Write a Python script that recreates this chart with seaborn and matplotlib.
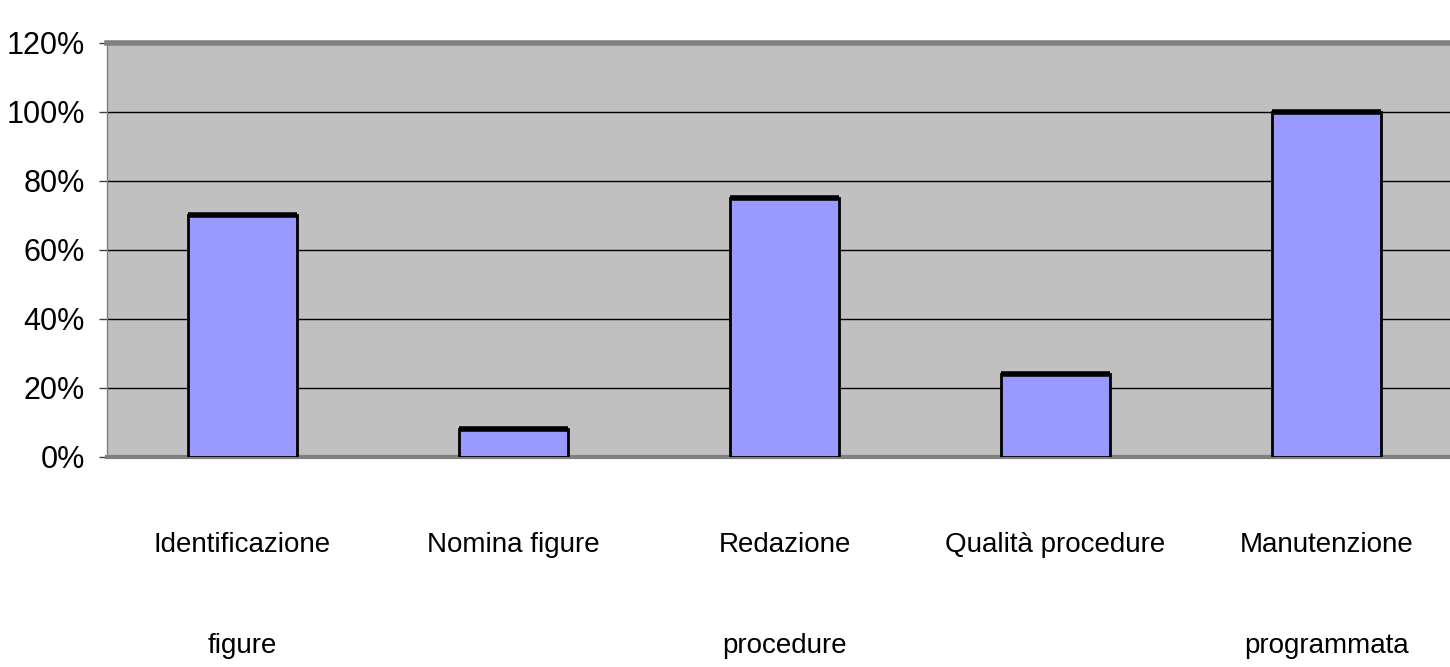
import matplotlib
matplotlib.use("Agg")
import matplotlib.pyplot as plt
from matplotlib.ticker import FixedLocator, NullFormatter
import seaborn as sns
import pandas as pd

# data
categories = ["Identificazione\nfigure", "Nomina figure", "Redazione\nprocedure",
              "Qualità procedure", "Manutenzione\nprogrammata"]
values = [70, 8, 75, 24, 100]
y_ticks = [0, 20, 40, 60, 80, 100, 120]

df = pd.DataFrame({"attivita": categories, "pct": values})

sns.set_style("white")
plt.rcParams["font.family"] = ["Liberation Sans", "DejaVu Sans"]

fig = plt.figure(figsize=(14.5, 6.67), dpi=100)
ax = fig.add_axes([107 / 1450, 1 - 456.7 / 667, 1355 / 1450, 413.7 / 667])
ax.set_facecolor("#C0C0C0")

sns.barplot(data=df, x="attivita", y="pct", color="#9999FF", edgecolor="black",
            linewidth=2, width=0.4, saturation=1, ax=ax, zorder=3)

# thick top edge of each bar
for p in ax.patches:
    ax.hlines(p.get_height(), p.get_x(), p.get_x() + p.get_width(),
              color="black", lw=4, zorder=4)

ax.set_xlim(-0.5, len(categories) - 0.5)
ax.set_ylim(0, 120)
ax.set_yticks(y_ticks)
ax.set_yticklabels([f"{v}%" for v in y_ticks])
for v in y_ticks[1:-1]:
    ax.axhline(v, color="black", lw=1, zorder=1)

ax.set_xlabel("")
ax.set_ylabel("")

# category boundaries as minor ticks
ax.xaxis.set_minor_locator(FixedLocator([i + 0.5 for i in range(-1, len(categories))]))
ax.xaxis.set_minor_formatter(NullFormatter())
ax.tick_params(axis="x", which="major", length=0, pad=54, labelsize=20, labelcolor="black")
ax.tick_params(axis="x", which="minor", length=13, width=1, color="#404040", direction="out")
ax.tick_params(axis="y", length=6, width=1, color="#404040", direction="out", pad=10,
               labelsize=22, labelcolor="black", left=True)
for lab in ax.get_xticklabels():
    lab.set_linespacing(4.75)

ax.spines["top"].set_color("#808080")
ax.spines["top"].set_linewidth(4)
ax.spines["bottom"].set_color("#808080")
ax.spines["bottom"].set_linewidth(3)
ax.spines["left"].set_color("#808080")
ax.spines["left"].set_linewidth(1)
ax.spines["right"].set_visible(False)

fig.savefig("out.png", dpi=100)
